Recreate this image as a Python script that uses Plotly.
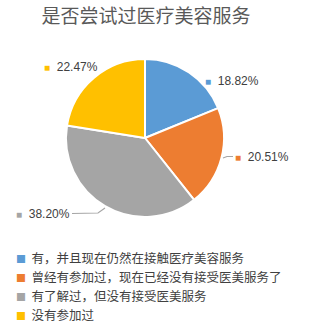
import plotly.graph_objects as go

title = "是否尝试过医疗美容服务"
categories = ["有，并且现在仍然在接触医疗美容服务",
              "曾经有参加过，现在已经没有接受医美服务了",
              "有了解过，但没有接受医美服务",
              "没有参加过"]
values = [18.82, 20.51, 38.20, 22.47]
colors = ["#5B9BD5", "#ED7D31", "#A5A5A5", "#FFC000"]

W, H = 311, 325
def px(x): return x / W
def py(y): return 1 - y / H

fig = go.Figure(go.Pie(
    labels=categories, values=values, sort=False, direction="clockwise",
    rotation=0, marker=dict(colors=colors, line=dict(color="white", width=2)),
    textinfo="none", hoverinfo="label+percent",
    domain=dict(x=[px(66), px(224)], y=[py(217), py(59)]),
    showlegend=False,
))

# data labels
label_pos = [(208, 81), (238, 157), (19, 214), (47, 67)]
for v, c, (x, y) in zip(values, colors, label_pos):
    fig.add_annotation(x=px(x - 5), y=py(y), xref="paper", yref="paper",
                       xanchor="left", yanchor="middle", showarrow=False,
                       text=f"<span style='color:{c};font-size:10px'>■</span>  {v:.2f}%",
                       font=dict(family="Liberation Sans, Noto Sans", size=12, color="#404040"))

# leader lines
fig.add_shape(type="path", xref="paper", yref="paper",
              path=f"M {px(223)},{py(158)} L {px(227)},{py(156.5)} L {px(233)},{py(156.5)}",
              line=dict(color="#A6A6A6", width=1.2))
fig.add_shape(type="path", xref="paper", yref="paper",
              path=f"M {px(72)},{py(213.5)} L {px(98)},{py(213)} L {px(105)},{py(208)}",
              line=dict(color="#A6A6A6", width=1.2))

# legend
leg_y = [257, 276, 295, 314]
for cat, c, y in zip(categories, colors, leg_y):
    fig.add_annotation(x=px(14), y=py(y), xref="paper", yref="paper",
                       xanchor="left", yanchor="middle", showarrow=False,
                       text=f"<span style='color:{c};font-size:10px'>■</span>  {cat}",
                       font=dict(family="Noto Sans CJK SC", size=12.5, color="#404040"))

fig.update_layout(
    width=W, height=H, margin=dict(l=0, r=0, t=0, b=0),
    paper_bgcolor="white", plot_bgcolor="white",
    title=dict(text=title, x=px(146), xanchor="center", y=py(16), yanchor="middle",
               font=dict(family="Noto Sans CJK SC", size=19, color="#595959")),
)
fig.write_html("out.html")
